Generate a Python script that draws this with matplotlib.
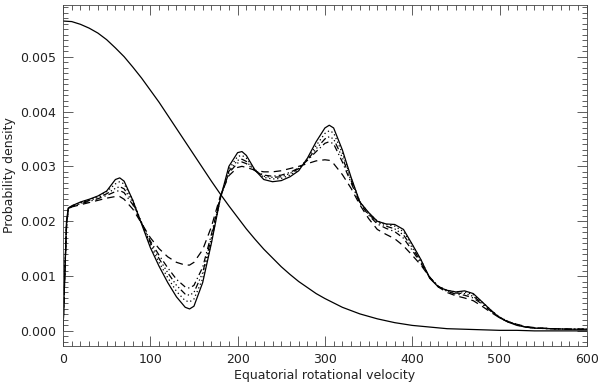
import numpy as np
import matplotlib
matplotlib.use("Agg")
import matplotlib.pyplot as plt
from matplotlib.ticker import MultipleLocator

# velocity grid shared by the five model curves
vel = [0, 2, 4, 6, 10, 20, 30, 40, 50, 60, 65, 70, 80, 90, 100, 110, 120, 130,
       140, 145, 150, 160, 170, 180, 190, 200, 205, 210, 220, 230, 240, 250,
       260, 270, 280, 290, 300, 305, 310, 320, 330, 340, 350, 360, 370, 380,
       390, 400, 410, 420, 430, 440, 450, 460, 470, 480, 490, 500, 510, 520,
       530, 540, 560, 580, 600]

solid = [0, 0.0010, 0.0020, 0.00224, 0.00228, 0.00235, 0.00240, 0.00246, 0.00255,
         0.00276, 0.00279, 0.00273, 0.00238, 0.00195, 0.00152, 0.00118, 0.00088,
         0.00062, 0.00043, 0.00040, 0.00045, 0.00088, 0.00160, 0.00240, 0.00300,
         0.00325, 0.00327, 0.00320, 0.00293, 0.00276, 0.00272, 0.00274, 0.00281,
         0.00292, 0.00315, 0.00345, 0.00370, 0.00375, 0.00370, 0.00330, 0.00280,
         0.00235, 0.00216, 0.00200, 0.00195, 0.00194, 0.00185, 0.00158, 0.00130,
         0.00096, 0.00080, 0.00074, 0.00071, 0.00073, 0.00068, 0.00053, 0.00038,
         0.00024, 0.00016, 0.00010, 0.00007, 0.00005, 0.00004, 0.00003, 0.00003]

dotted = [0, 0.0010, 0.0019, 0.00223, 0.00228, 0.00234, 0.00239, 0.00245, 0.00254,
          0.00268, 0.00272, 0.00268, 0.00238, 0.00197, 0.00157, 0.00125, 0.00097,
          0.00072, 0.00055, 0.00053, 0.00058, 0.00095, 0.00163, 0.00240, 0.00295,
          0.00318, 0.00320, 0.00315, 0.00293, 0.00280, 0.00277, 0.00278, 0.00284,
          0.00294, 0.00314, 0.00338, 0.00360, 0.00365, 0.00361, 0.00324, 0.00278,
          0.00236, 0.00215, 0.00200, 0.00194, 0.00191, 0.00181, 0.00157, 0.00129,
          0.00097, 0.00081, 0.00074, 0.00071, 0.00071, 0.00066, 0.00053, 0.00038,
          0.00025, 0.00017, 0.00011, 0.00007, 0.00005, 0.00004, 0.00003, 0.00003]

dash3dot = [0, 0.0010, 0.0019, 0.00223, 0.00227, 0.00233, 0.00238, 0.00243, 0.00250,
            0.00260, 0.00263, 0.00259, 0.00234, 0.00197, 0.00161, 0.00132, 0.00106,
            0.00083, 0.00067, 0.00065, 0.00070, 0.00106, 0.00170, 0.00242, 0.00291,
            0.00311, 0.00313, 0.00309, 0.00292, 0.00282, 0.00280, 0.00281, 0.00287,
            0.00296, 0.00312, 0.00332, 0.00350, 0.00354, 0.00350, 0.00316, 0.00274,
            0.00235, 0.00213, 0.00198, 0.00191, 0.00186, 0.00175, 0.00152, 0.00126,
            0.00098, 0.00081, 0.00073, 0.00069, 0.00068, 0.00063, 0.00051, 0.00037,
            0.00025, 0.00017, 0.00011, 0.00007, 0.00005, 0.00004, 0.00003, 0.00003]

dashdot = [0, 0.0010, 0.0019, 0.00222, 0.00227, 0.00232, 0.00236, 0.00241, 0.00247,
           0.00254, 0.00256, 0.00252, 0.00230, 0.00197, 0.00164, 0.00138, 0.00115,
           0.00094, 0.00080, 0.00078, 0.00083, 0.00116, 0.00176, 0.00243, 0.00288,
           0.00306, 0.00308, 0.00305, 0.00292, 0.00284, 0.00282, 0.00284, 0.00289,
           0.00297, 0.00311, 0.00327, 0.00342, 0.00345, 0.00341, 0.00308, 0.00270,
           0.00233, 0.00211, 0.00195, 0.00187, 0.00181, 0.00169, 0.00147, 0.00123,
           0.00098, 0.00081, 0.00072, 0.00067, 0.00065, 0.00060, 0.00049, 0.00036,
           0.00025, 0.00017, 0.00011, 0.00007, 0.00005, 0.00004, 0.00003, 0.00003]

dashed = [0, 0.0010, 0.0019, 0.00222, 0.00226, 0.00230, 0.00234, 0.00238, 0.00242,
          0.00245, 0.00245, 0.00240, 0.00222, 0.00196, 0.00170, 0.00150, 0.00135,
          0.00125, 0.00120, 0.00120, 0.00125, 0.00148, 0.00190, 0.00245, 0.00283,
          0.00298, 0.00300, 0.00298, 0.00293, 0.00290, 0.00290, 0.00292, 0.00296,
          0.00300, 0.00305, 0.00310, 0.00312, 0.00311, 0.00305, 0.00285, 0.00260,
          0.00230, 0.00205, 0.00185, 0.00176, 0.00168, 0.00155, 0.00138, 0.00120,
          0.00098, 0.00080, 0.00070, 0.00064, 0.00060, 0.00055, 0.00045, 0.00034,
          0.00024, 0.00016, 0.00012, 0.00008, 0.00006, 0.00004, 0.00003, 0.00003]

# broad prior-like curve
vel_g = [0, 10, 20, 30, 40, 50, 60, 70, 80, 90, 100, 110, 120, 130, 140, 150,
         160, 170, 180, 190, 200, 210, 220, 230, 240, 250, 260, 270, 280, 290,
         300, 320, 340, 360, 380, 400, 420, 440, 460, 480, 500, 520, 540, 560,
         580, 600]
gauss = [0.00565, 0.00564, 0.00559, 0.00552, 0.00543, 0.00531, 0.00516, 0.00500,
         0.00481, 0.00461, 0.00439, 0.00417, 0.00393, 0.00369, 0.00345, 0.00321,
         0.00297, 0.00273, 0.00250, 0.00228, 0.00207, 0.00186, 0.00167, 0.00149,
         0.00133, 0.00117, 0.00103, 0.00090, 0.00079, 0.00068, 0.00059, 0.00043,
         0.00031, 0.00022, 0.00015, 0.00010, 0.00007, 0.00004, 0.00003, 0.00002,
         0.00001, 0.00001, 0.0, 0.0, 0.0, 0.0]

fig = plt.figure(figsize=(6, 3.86), dpi=100)
ax = fig.add_axes([0.105, 0.104, 0.873, 0.883])

lw = 0.9
ax.plot(vel, solid, color="black", lw=lw)
ax.plot(vel, dotted, color="black", lw=lw, dashes=(1, 2.2))
ax.plot(vel, dash3dot, color="black", lw=lw, dashes=(5, 2, 1, 2, 1, 2, 1, 2))
ax.plot(vel, dashdot, color="black", lw=lw, dashes=(5, 2.5, 1, 2.5))
ax.plot(vel, dashed, color="black", lw=lw, dashes=(6, 4))
ax.plot(vel_g, gauss, color="black", lw=lw)

ax.set_xlim(0, 600)
ax.set_ylim(-0.000273, 0.005942)
ax.xaxis.set_major_locator(MultipleLocator(100))
ax.xaxis.set_minor_locator(MultipleLocator(10))
ax.yaxis.set_major_locator(MultipleLocator(0.001))
ax.yaxis.set_minor_locator(MultipleLocator(0.0001))
ax.yaxis.set_major_formatter(plt.FormatStrFormatter("%.3f"))

ax.tick_params(which="both", direction="in", top=True, right=True,
               color="#444444", width=0.6, labelsize=9, labelcolor="#222222")
ax.tick_params(which="major", length=7, pad=5)
ax.tick_params(which="minor", length=3.5)
for s in ax.spines.values():
    s.set_linewidth(0.6)
    s.set_color("#444444")

ax.set_xlabel("Equatorial rotational velocity", fontsize=9, color="#222222", labelpad=2)
ax.set_ylabel("Probability density", fontsize=9, color="#222222")
ax.yaxis.set_label_coords(-0.09, 0.5)

fig.savefig("out.png", dpi=100)
